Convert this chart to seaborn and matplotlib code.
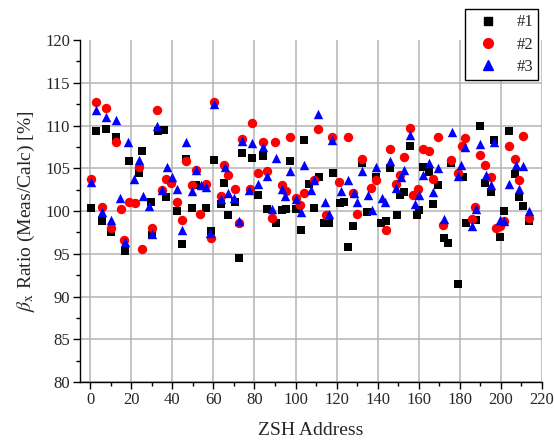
import matplotlib
matplotlib.use("Agg")
import matplotlib.pyplot as plt
from matplotlib.ticker import MultipleLocator
from matplotlib.lines import Line2D
import seaborn as sns
import pandas as pd

# ------------------------------
# Data (ZSH address vs beta_x ratio in %)
# ------------------------------
addr_1 = [0.6, 2.9, 5.8, 7.8, 9.9, 12.3, 16.9, 18.9, 23.7, 25.4, 29.4, 30.2, 33.2, 36.0, 37.0,
          42.5, 44.5, 46.8, 49.8, 51.4, 56.6, 58.7, 60.3, 63.6, 65.2, 67.3, 70.6, 72.5, 74.1,
          79.0, 81.9, 84.3, 86.3, 90.4, 93.6, 95.6, 97.2, 100.2, 102.6, 104.2, 106.7, 109.1,
          111.6, 114.0, 116.4, 118.4, 121.6, 123.7, 125.4, 128.0, 132.4, 134.6, 139.2, 141.6,
          144.1, 146.0, 149.3, 150.9, 153.0, 155.8, 159.4, 160.3, 161.9, 165.2, 166.8, 169.3,
          172.3, 174.1, 175.8, 179.0, 181.5, 183.1, 188.0, 189.9, 192.5, 195.3, 196.9, 199.6,
          201.8, 203.9, 206.7, 209.1, 210.7, 214.0]
ratio_1 = [100.3, 109.3, 98.8, 109.6, 97.6, 108.6, 95.3, 105.8, 104.4, 107.0, 101.1, 97.2, 109.3, 109.5, 101.6,
           100.0, 96.1, 106.1, 100.4, 103.1, 100.3, 97.7, 106.0, 100.8, 103.3, 99.5, 101.1, 94.5, 106.8,
           106.2, 101.9, 106.4, 100.2, 98.6, 100.1, 100.2, 105.8, 100.2, 97.8, 108.3, 103.2, 100.3,
           104.0, 98.6, 98.6, 104.5, 100.9, 101.0, 95.8, 98.2, 105.6, 99.9, 104.0, 98.6,
           98.8, 105.0, 99.5, 101.9, 102.2, 107.6, 99.5, 100.1, 105.2, 104.6, 100.8, 103.1,
           96.8, 96.3, 105.6, 91.5, 104.0, 98.6, 98.9, 110.0, 103.3, 102.2, 108.3, 97.0,
           100.0, 109.3, 104.3, 101.6, 100.6, 98.8]

addr_2 = [0.6, 2.6, 5.8, 7.5, 9.9, 12.7, 14.8, 16.4, 18.9, 21.8, 23.7, 25.4, 30.2, 32.7, 35.1, 37.0,
          39.5, 42.4, 44.5, 46.5, 49.4, 51.4, 53.3, 56.2, 58.7, 60.3, 63.6, 65.2, 67.3, 70.6, 72.5,
          74.1, 77.7, 79.0, 81.5, 84.3, 86.3, 88.5, 90.1, 93.3, 95.3, 97.2, 100.2, 102.1, 104.2,
          109.1, 111.2, 114.8, 118.0, 121.3, 125.4, 127.8, 130.2, 132.4, 136.7, 139.2, 144.1,
          146.0, 148.9, 150.9, 153.0, 155.8, 157.4, 159.5, 161.9, 165.2, 166.8, 169.3, 172.0,
          175.8, 179.0, 181.1, 182.8, 186.0, 187.6, 189.9, 192.5, 195.3, 197.7, 199.6, 201.8,
          203.9, 206.7, 208.8, 210.7, 213.7]
ratio_2 = [103.7, 112.7, 100.5, 112.1, 98.0, 108.1, 100.2, 96.6, 101.0, 100.9, 105.1, 95.6, 98.0, 111.8, 102.5, 103.8,
           103.3, 101.1, 98.9, 105.8, 103.0, 104.8, 99.6, 103.2, 96.8, 112.8, 101.7, 105.4, 104.2, 102.6, 98.6,
           108.4, 102.6, 110.3, 104.4, 108.1, 104.7, 99.2, 108.1, 103.0, 102.3, 108.7, 101.5, 100.7, 102.1,
           103.6, 109.6, 99.5, 108.6, 103.4, 108.6, 102.1, 99.7, 106.1, 102.7, 103.6, 97.8,
           107.2, 103.2, 104.2, 106.3, 109.7, 101.9, 102.6, 107.3, 107.0, 103.8, 108.7, 98.4,
           106.0, 104.4, 107.6, 108.5, 99.1, 100.5, 106.5, 105.4, 104.0, 98.0, 98.2, 98.8,
           107.6, 106.1, 103.6, 108.8, 99.2]

addr_3 = [0.6, 2.6, 5.5, 7.5, 9.9, 12.3, 14.3, 16.9, 18.4, 21.3, 23.7, 25.7, 28.6, 30.2, 32.7, 35.1,
          37.6, 40.0, 42.4, 44.9, 46.8, 49.4, 51.4, 53.8, 56.2, 58.2, 60.3, 63.6, 65.8, 67.3, 70.1,
          72.5, 74.1, 77.4, 79.0, 81.5, 84.3, 86.3, 88.5, 90.4, 93.3, 95.0, 97.2, 100.2, 102.6,
          104.2, 107.5, 109.1, 111.2, 114.5, 116.4, 118.0, 122.1, 125.4, 128.6, 130.2, 132.4,
          135.1, 137.2, 139.2, 142.1, 143.8, 146.2, 148.9, 151.4, 153.0, 155.8, 158.4, 160.3,
          161.9, 164.9, 167.2, 169.3, 172.5, 176.2, 179.0, 180.6, 182.8, 186.0, 188.0, 189.9,
          192.8, 195.3, 196.9, 199.6, 201.8, 203.9, 207.2, 208.8, 210.7, 213.7]
ratio_3 = [103.4, 111.8, 99.9, 111.0, 98.9, 110.7, 101.5, 96.4, 108.1, 103.8, 106.0, 101.7, 100.6, 97.3, 110.0, 102.5,
           105.2, 104.0, 102.6, 97.8, 108.1, 102.3, 104.8, 103.1, 102.8, 97.4, 112.5, 101.4, 105.2, 102.1, 101.5,
           98.8, 108.2, 102.5, 107.9, 103.2, 107.5, 104.1, 100.2, 106.2, 102.6, 101.7, 104.7, 101.4, 99.9,
           105.4, 102.5, 103.6, 111.4, 101.0, 99.6, 108.3, 102.3, 103.6, 102.1, 101.0, 104.7,
           101.9, 100.1, 105.2, 101.5, 101.0, 105.8, 102.7, 104.0, 104.8, 108.9, 100.8, 101.9,
           104.2, 105.6, 102.2, 105.0, 99.1, 109.2, 104.1, 105.4, 107.5, 98.2, 100.2, 107.8,
           104.2, 103.0, 108.1, 98.9, 98.8, 103.2, 105.4, 102.6, 105.3, 100.0]

x_ticks = list(range(0, 221, 20))
y_ticks = list(range(80, 121, 5))

# ------------------------------
# Style
# ------------------------------
sns.set_style("white")
plt.rcParams['font.family'] = ['Liberation Serif', 'DejaVu Serif']
plt.rcParams['mathtext.fontset'] = 'stix'

df1 = pd.DataFrame({'addr': addr_1, 'ratio': ratio_1})
df2 = pd.DataFrame({'addr': addr_2, 'ratio': ratio_2})
df3 = pd.DataFrame({'addr': addr_3, 'ratio': ratio_3})

fig = plt.figure(figsize=(5.54, 4.47), dpi=100)
ax = fig.add_axes([0.1444, 0.1454, 0.8336, 0.7651])

sns.scatterplot(data=df1, x='addr', y='ratio', marker='s', color='black', s=32, linewidth=0, ax=ax, zorder=3)
sns.scatterplot(data=df2, x='addr', y='ratio', marker='o', color='red', s=46, linewidth=0, ax=ax, zorder=4)
sns.scatterplot(data=df3, x='addr', y='ratio', marker='^', color='blue', s=46, linewidth=0, ax=ax, zorder=5)

ax.set_xlim(-5, 220)
ax.set_ylim(80, 120)
ax.set_xticks(x_ticks)
ax.set_yticks(y_ticks)
ax.xaxis.set_minor_locator(MultipleLocator(10))
ax.yaxis.set_minor_locator(MultipleLocator(2.5))
ax.tick_params(axis='both', which='major', direction='out', length=5, width=1,
               labelsize=12, color='black', bottom=True, left=True, pad=2)
ax.tick_params(axis='both', which='minor', direction='out', length=3, width=1,
               color='black', bottom=True, left=True)

ax.grid(True, which='major', color='#b4b4b4', linewidth=1.1)
ax.set_axisbelow(True)
for side in ['top', 'right']:
    ax.spines[side].set_visible(False)
for side in ['left', 'bottom']:
    ax.spines[side].set_color('black')
    ax.spines[side].set_linewidth(1)

ax.set_xlabel('ZSH Address', fontsize=14, labelpad=10)
ax.set_ylabel(r'$\beta_{\mathrm{x}}$ Ratio (Meas/Calc) [%]', fontsize=14, labelpad=6)

# hide the horizontal grid line on the top edge
fig.canvas.draw()
ax.yaxis.get_gridlines()[-1].set_visible(False)

handles = [
    Line2D([], [], linestyle='none', marker='s', color='black', markersize=6),
    Line2D([], [], linestyle='none', marker='o', color='red', markersize=7),
    Line2D([], [], linestyle='none', marker='^', color='blue', markersize=7),
]
leg = ax.legend(handles, ['#1', '#2', '#3'], loc='upper right',
                bbox_to_anchor=(0.972, 0.979), bbox_transform=fig.transFigure,
                borderaxespad=0, fancybox=False, framealpha=1, edgecolor='black',
                fontsize=12, handletextpad=0.7, borderpad=0.3, labelspacing=0.38,
                handlelength=2.1)
leg.get_frame().set_linewidth(1)

fig.savefig('out.png', dpi=100)
